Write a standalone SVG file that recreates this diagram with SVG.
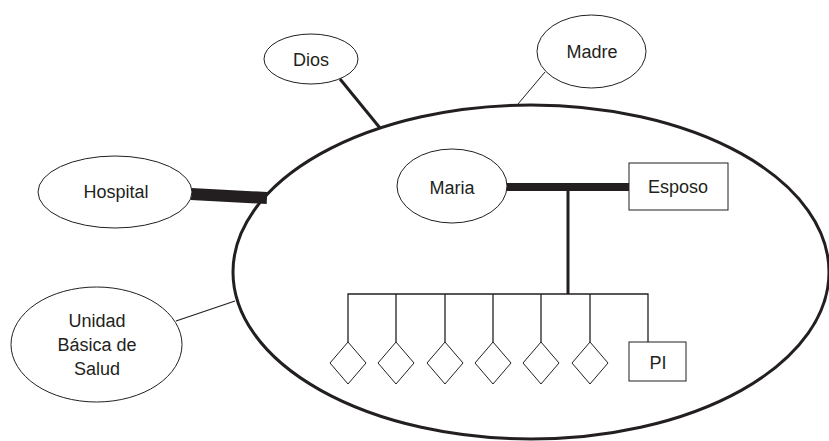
<svg xmlns="http://www.w3.org/2000/svg" width="829" height="441" viewBox="0 0 829 441">
<style>
.n{fill:#fff;stroke:#231f20;stroke-width:1}
.t{font-family:"Liberation Sans",Arial,sans-serif;font-size:18px;fill:#231f20;text-anchor:middle}
.c{stroke:#231f20;fill:none}
</style>
<rect width="829" height="441" fill="#fff"/>
<g id="connectors">
<line class="c" x1="340" y1="79" x2="380" y2="128" stroke-width="3"/>
<line class="c" x1="545" y1="72" x2="518" y2="104" stroke-width="1"/>
<line class="c" x1="191" y1="194" x2="267" y2="198" stroke-width="12"/>
<line class="c" x1="176" y1="321" x2="235" y2="301" stroke-width="1.2"/>
</g>
<g id="familia">
<ellipse cx="531" cy="272" rx="298" ry="167" fill="none" stroke="#231f20" stroke-width="3"/>
</g>
<g id="family-connectors">
<line class="c" x1="506" y1="187" x2="630" y2="187" stroke-width="8"/>
<line class="c" x1="568" y1="187" x2="568" y2="294" stroke-width="3"/>
<polyline class="c" points="348,342 348,294 648,294 648,342" stroke-width="1.3"/>
<line class="c" x1="396" y1="294" x2="396" y2="342" stroke-width="1.3"/>
<line class="c" x1="445" y1="294" x2="445" y2="342" stroke-width="1.3"/>
<line class="c" x1="493" y1="294" x2="493" y2="342" stroke-width="1.3"/>
<line class="c" x1="541" y1="294" x2="541" y2="342" stroke-width="1.3"/>
<line class="c" x1="590" y1="294" x2="590" y2="342" stroke-width="1.3"/>
</g>
<g id="dios"><ellipse class="n" cx="311" cy="59" rx="47" ry="25"/><text class="t" x="311" y="66">Dios</text></g>
<g id="madre"><ellipse class="n" cx="591.5" cy="51.5" rx="54.5" ry="36.5"/><text class="t" x="592" y="58">Madre</text></g>
<g id="hospital"><ellipse class="n" cx="115" cy="192" rx="77" ry="36"/><text class="t" x="116" y="198">Hospital</text></g>
<g id="unidad"><ellipse class="n" cx="96.5" cy="344.5" rx="85.5" ry="57.5"/><text class="t" x="97" y="327">Unidad</text><text class="t" x="97" y="351">Básica de</text><text class="t" x="97" y="375">Salud</text></g>
<g id="maria"><ellipse class="n" cx="452" cy="186" rx="55" ry="37"/><text class="t" x="452" y="194">Maria</text></g>
<g id="esposo"><rect class="n" x="629" y="163" width="99" height="47"/><text class="t" x="678" y="193">Esposo</text></g>
<g id="hijo1"><polygon class="n" points="348,342 366,363 348,384 330,363"/></g>
<g id="hijo2"><polygon class="n" points="396,342 414,363 396,384 378,363"/></g>
<g id="hijo3"><polygon class="n" points="445,342 463,363 445,384 427,363"/></g>
<g id="hijo4"><polygon class="n" points="493,342 511,363 493,384 475,363"/></g>
<g id="hijo5"><polygon class="n" points="541,342 559,363 541,384 523,363"/></g>
<g id="hijo6"><polygon class="n" points="590,342 608,363 590,384 572,363"/></g>
<g id="pi"><rect class="n" x="629" y="342" width="57" height="39"/><text class="t" x="658" y="369">PI</text></g>
</svg>
